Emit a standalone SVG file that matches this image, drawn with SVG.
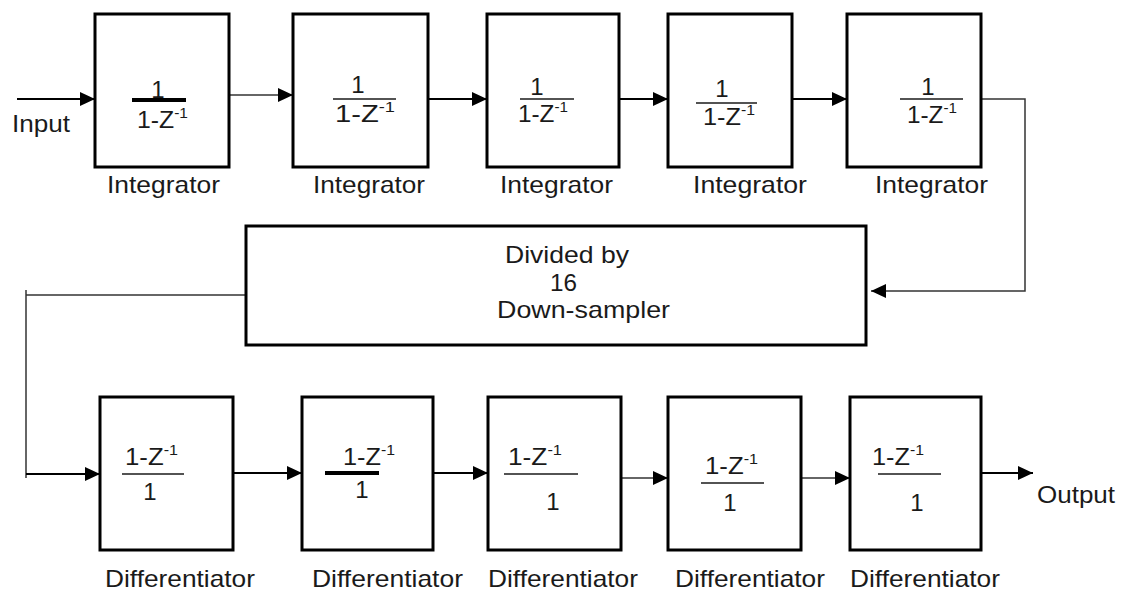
<svg xmlns="http://www.w3.org/2000/svg" width="1122" height="592" viewBox="0 0 1122 592">
  <style>
    .blk { fill: #ffffff; stroke: #000000; stroke-width: 3; }
    .lbl { font-family: "Liberation Sans", Arial, sans-serif; font-size: 24px; fill: #1a1a1a; }
    .frac { font-family: "Liberation Sans", Arial, sans-serif; font-size: 24px; fill: #1a1a1a; }
    .sup { font-size: 15px; }
    .bar { stroke: #1a1a1a; stroke-width: 1.5; }
    .bar-thick { stroke: #000000; stroke-width: 4; }
    .wire { fill: none; stroke: #000000; stroke-width: 2; }
    .wire-thin { fill: none; stroke: #333333; stroke-width: 1.5; }
    .arrow { marker-end: url(#head); }
  </style>
  <defs>
    <marker id="head" markerUnits="userSpaceOnUse" markerWidth="16" markerHeight="14" refX="15" refY="7" orient="auto">
      <path d="M0,0 L15,7 L0,14 z" fill="#000000"/>
    </marker>
  </defs>
  <rect width="1122" height="592" fill="#ffffff"/>

  <!-- connectors -->
  <g id="connectors">
    <line class="wire arrow" x1="17" y1="99" x2="95" y2="99"/>
    <line class="wire-thin arrow" x1="229" y1="95" x2="293" y2="95"/>
    <line class="wire arrow" x1="428" y1="99" x2="487" y2="99"/>
    <line class="wire arrow" x1="619" y1="99" x2="668" y2="99"/>
    <line class="wire arrow" x1="792" y1="99" x2="847" y2="99"/>
    <polyline class="wire-thin arrow" points="981,99 1025,99 1025,291 871,291"/>
    <line class="wire-thin" x1="246" y1="295" x2="26" y2="295"/>
    <line class="wire-thin" x1="26" y1="290" x2="26" y2="478"/>
    <line class="wire arrow" x1="26" y1="474" x2="100" y2="474"/>
    <line class="wire arrow" x1="233" y1="473" x2="302" y2="473"/>
    <line class="wire arrow" x1="433" y1="473" x2="488" y2="473"/>
    <line class="wire-thin arrow" x1="621" y1="478" x2="668" y2="478"/>
    <line class="wire-thin arrow" x1="801" y1="478" x2="850" y2="478"/>
    <line class="wire arrow" x1="981" y1="473" x2="1033" y2="473"/>
  </g>

  <text class="lbl" x="12" y="132" textLength="58" lengthAdjust="spacingAndGlyphs">Input</text>
  <text class="lbl" x="1037" y="503" textLength="78" lengthAdjust="spacingAndGlyphs">Output</text>

  <!-- integrator stages -->
  <g id="integrator1">
    <rect class="blk" x="95" y="14" width="134" height="153"/>
    <text class="frac" x="158" y="98" text-anchor="middle">1</text>
    <line class="bar-thick" x1="132" y1="100" x2="186" y2="100"/>
    <text class="frac" x="137" y="128" textLength="51" lengthAdjust="spacingAndGlyphs">1-Z<tspan class="sup" dy="-10">-1</tspan></text>
    <text class="lbl" x="107" y="193" textLength="113" lengthAdjust="spacingAndGlyphs">Integrator</text>
  </g>
  <g id="integrator2">
    <rect class="blk" x="293" y="14" width="135" height="153"/>
    <text class="frac" x="358" y="93" text-anchor="middle">1</text>
    <line class="bar" x1="333" y1="99" x2="396" y2="99"/>
    <text class="frac" x="335" y="122" textLength="60" lengthAdjust="spacingAndGlyphs">1-Z<tspan class="sup" dy="-10">-1</tspan></text>
    <text class="lbl" x="313" y="193" textLength="112" lengthAdjust="spacingAndGlyphs">Integrator</text>
  </g>
  <g id="integrator3">
    <rect class="blk" x="487" y="14" width="132" height="153"/>
    <text class="frac" x="537" y="95" text-anchor="middle">1</text>
    <line class="bar" x1="520" y1="99" x2="574" y2="99"/>
    <text class="frac" x="518" y="122" textLength="50" lengthAdjust="spacingAndGlyphs">1-Z<tspan class="sup" dy="-10">-1</tspan></text>
    <text class="lbl" x="500" y="193" textLength="113" lengthAdjust="spacingAndGlyphs">Integrator</text>
  </g>
  <g id="integrator4">
    <rect class="blk" x="668" y="14" width="124" height="153"/>
    <text class="frac" x="722" y="97" text-anchor="middle">1</text>
    <line class="bar" x1="696" y1="103" x2="757" y2="103"/>
    <text class="frac" x="703" y="125" textLength="52" lengthAdjust="spacingAndGlyphs">1-Z<tspan class="sup" dy="-10">-1</tspan></text>
    <text class="lbl" x="693" y="193" textLength="114" lengthAdjust="spacingAndGlyphs">Integrator</text>
  </g>
  <g id="integrator5">
    <rect class="blk" x="847" y="14" width="134" height="153"/>
    <text class="frac" x="928" y="95" text-anchor="middle">1</text>
    <line class="bar" x1="900" y1="99" x2="963" y2="99"/>
    <text class="frac" x="907" y="123" textLength="50" lengthAdjust="spacingAndGlyphs">1-Z<tspan class="sup" dy="-10">-1</tspan></text>
    <text class="lbl" x="875" y="193" textLength="113" lengthAdjust="spacingAndGlyphs">Integrator</text>
  </g>

  <!-- rate reduction -->
  <g id="downsampler">
    <rect class="blk" x="246" y="226" width="620" height="119"/>
    <text class="lbl" x="505" y="263" textLength="124" lengthAdjust="spacingAndGlyphs">Divided by</text>
    <text class="lbl" x="550" y="291" textLength="27" lengthAdjust="spacingAndGlyphs">16</text>
    <text class="lbl" x="497" y="318" textLength="173" lengthAdjust="spacingAndGlyphs">Down-sampler</text>
  </g>

  <!-- differentiator stages -->
  <g id="differentiator1">
    <rect class="blk" x="100" y="397" width="133" height="153"/>
    <text class="frac" x="125" y="465" textLength="53" lengthAdjust="spacingAndGlyphs">1-Z<tspan class="sup" dy="-10">-1</tspan></text>
    <line class="bar" x1="122" y1="474" x2="184" y2="474"/>
    <text class="frac" x="150" y="500" text-anchor="middle">1</text>
    <text class="lbl" x="105" y="587" textLength="150" lengthAdjust="spacingAndGlyphs">Differentiator</text>
  </g>
  <g id="differentiator2">
    <rect class="blk" x="302" y="397" width="131" height="153"/>
    <text class="frac" x="343" y="465" textLength="52" lengthAdjust="spacingAndGlyphs">1-Z<tspan class="sup" dy="-10">-1</tspan></text>
    <line class="bar-thick" x1="325" y1="473" x2="379" y2="473"/>
    <text class="frac" x="362" y="498" text-anchor="middle">1</text>
    <text class="lbl" x="312" y="587" textLength="151" lengthAdjust="spacingAndGlyphs">Differentiator</text>
  </g>
  <g id="differentiator3">
    <rect class="blk" x="488" y="397" width="133" height="153"/>
    <text class="frac" x="508" y="465" textLength="54" lengthAdjust="spacingAndGlyphs">1-Z<tspan class="sup" dy="-10">-1</tspan></text>
    <line class="bar" x1="504" y1="474" x2="578" y2="474"/>
    <text class="frac" x="553" y="510" text-anchor="middle">1</text>
    <text class="lbl" x="488" y="587" textLength="150" lengthAdjust="spacingAndGlyphs">Differentiator</text>
  </g>
  <g id="differentiator4">
    <rect class="blk" x="668" y="397" width="133" height="153"/>
    <text class="frac" x="705" y="474" textLength="53" lengthAdjust="spacingAndGlyphs">1-Z<tspan class="sup" dy="-10">-1</tspan></text>
    <line class="bar" x1="701" y1="483" x2="764" y2="483"/>
    <text class="frac" x="730" y="511" text-anchor="middle">1</text>
    <text class="lbl" x="675" y="587" textLength="150" lengthAdjust="spacingAndGlyphs">Differentiator</text>
  </g>
  <g id="differentiator5">
    <rect class="blk" x="850" y="397" width="131" height="153"/>
    <text class="frac" x="872" y="465" textLength="52" lengthAdjust="spacingAndGlyphs">1-Z<tspan class="sup" dy="-10">-1</tspan></text>
    <line class="bar" x1="878" y1="474" x2="941" y2="474"/>
    <text class="frac" x="917" y="511" text-anchor="middle">1</text>
    <text class="lbl" x="850" y="587" textLength="150" lengthAdjust="spacingAndGlyphs">Differentiator</text>
  </g>
</svg>
